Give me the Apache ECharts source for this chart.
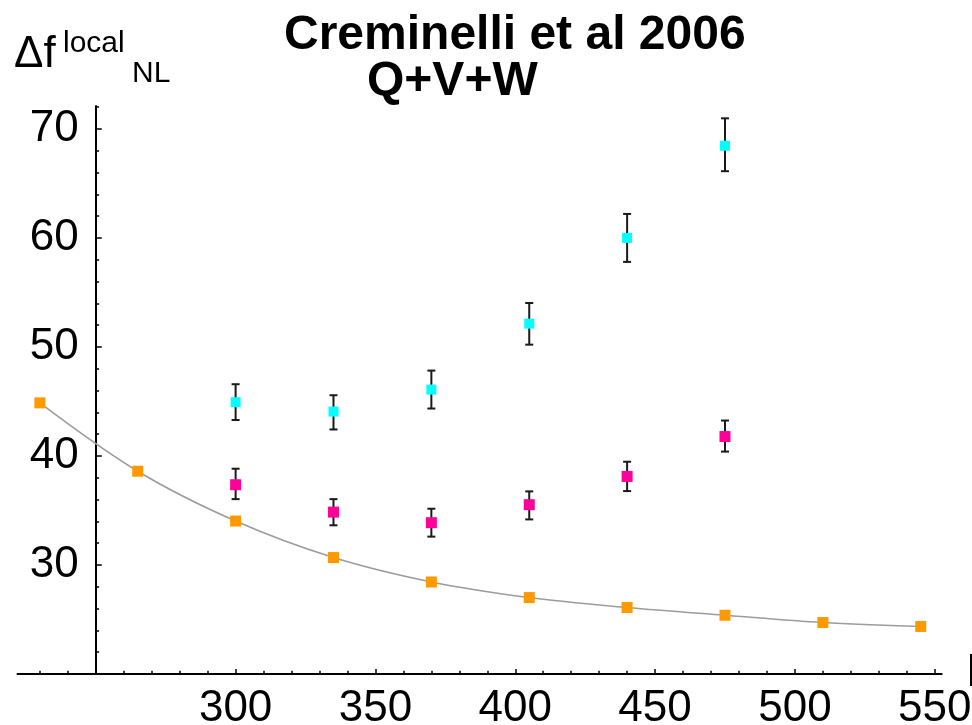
<!DOCTYPE html>
<html>
<head>
<meta charset="utf-8">
<script src="https://cdn.jsdelivr.net/npm/echarts@6/dist/echarts.min.js"></script>
<style>
html,body{margin:0;padding:0;background:#fff;overflow:hidden;}
#chart{width:972px;height:725px;}
</style>
</head>
<body>
<div id="chart"></div>
<script>
// ---- data ----
const lOrange = [230, 265, 300, 335, 370, 405, 440, 475, 510, 545];
const orangeVals = [44.87, 38.6, 34.03, 30.68, 28.44, 27.01, 26.1, 25.39, 24.72, 24.36];

const lErr = [300, 335, 370, 405, 440, 475];
const cyanVals = [44.93, 44.07, 46.09, 52.14, 60.0, 68.46];
const cyanLow  = [43.3, 42.43, 44.35, 50.21, 57.8, 66.12];
const cyanHigh = [46.58, 45.57, 47.83, 54.03, 62.2, 70.97];

const magVals = [37.36, 34.85, 33.88, 35.53, 38.12, 41.78];
const magLow  = [36.04, 33.64, 32.6, 34.18, 36.78, 40.4];
const magHigh = [38.83, 36.04, 35.16, 36.75, 39.47, 43.25];

const xMajorTicks = [300, 350, 400, 450, 500, 550];
const xMinorTicks = [230, 240, 260, 270, 280, 290, 310, 320, 330, 340, 360, 370, 380, 390, 410, 420, 430, 440, 460, 470, 480, 490, 510, 520, 530, 540];
const yMajorTicks = [30, 40, 50, 60, 70];
const yMinorTicks = [22, 24, 26, 28, 32, 34, 36, 38, 42, 44, 46, 48, 52, 54, 56, 58, 62, 64, 66, 68, 72];

const titleLine1 = 'Creminelli et al 2006';
const titleLine2 = 'Q+V+W';

// ---- chart ----
const FONT = '"Liberation Sans", Arial, Helvetica, sans-serif';
const X_MIN = 222, X_MAX = 552.5, Y_MIN = 20, Y_MAX = 72.1;
const chart = echarts.init(document.getElementById('chart'), null, {renderer: 'canvas'});

function errData(low, high) {
  return lErr.map((l, i) => [l, low[i], high[i]]);
}
function errRender(params, api) {
  const x = api.value(0);
  const p1 = api.coord([x, api.value(1)]);
  const p2 = api.coord([x, api.value(2)]);
  const w = 4;
  const st = {stroke: '#1a1a1a', lineWidth: 2};
  return {
    type: 'group',
    children: [
      {type: 'line', shape: {x1: p1[0], y1: p1[1], x2: p2[0], y2: p2[1]}, style: st},
      {type: 'line', shape: {x1: p1[0] - w, y1: p1[1], x2: p1[0] + w, y2: p1[1]}, style: st},
      {type: 'line', shape: {x1: p2[0] - w, y1: p2[1], x2: p2[0] + w, y2: p2[1]}, style: st}
    ]
  };
}

const gridTop = 106, gridBottom = 51, gridRight = 30.3;

const option = {
  animation: false,
  backgroundColor: '#fff',
  title: [
    {text: titleLine1, left: 284, top: 12, padding: 0,
     textStyle: {fontFamily: FONT, fontSize: 48, fontWeight: 'bold', color: '#000'}},
    {text: titleLine2, left: 367, top: 58, padding: 0,
     textStyle: {fontFamily: FONT, fontSize: 48, fontWeight: 'bold', color: '#000'}}
  ],
  graphic: [
    {type: 'text', left: 14, top: 33, style: {text: 'Δf', font: '44px ' + FONT, fill: '#000'}},
    {type: 'text', left: 63, top: 29, style: {text: 'local', font: '30px ' + FONT, fill: '#000'}},
    {type: 'text', left: 132, top: 59, style: {text: 'NL', font: '30px ' + FONT, fill: '#000'}},
    {type: 'text', left: 967, top: 652, style: {text: 'l', font: '44px ' + FONT, fill: '#000'}}
  ],
  grid: [
    {left: 17.5, right: gridRight, top: gridTop, bottom: gridBottom, containLabel: false, outerBoundsMode: 'none'},
    {left: 95.8, right: gridRight, top: gridTop, bottom: gridBottom, containLabel: false, outerBoundsMode: 'none'}
  ],
  xAxis: [
    {gridIndex: 0, type: 'value', min: X_MIN, max: X_MAX, position: 'bottom',
     axisLine: {show: true, lineStyle: {color: '#000', width: 2}},
     axisTick: {show: true, inside: true, length: 5, customValues: xMajorTicks, lineStyle: {color: '#000', width: 1.5}},
     axisLabel: {show: true, customValues: xMajorTicks, margin: 13, fontSize: 44, fontFamily: FONT, color: '#000', hideOverlap: false},
     splitLine: {show: false}},
    {gridIndex: 0, type: 'value', min: X_MIN, max: X_MAX, position: 'bottom',
     axisLine: {show: false},
     axisTick: {show: true, inside: true, length: 3.3, customValues: xMinorTicks, lineStyle: {color: '#000', width: 1.5}},
     axisLabel: {show: false}, splitLine: {show: false}},
    {gridIndex: 1, type: 'value', min: X_MIN, max: X_MAX, show: false}
  ],
  yAxis: [
    {gridIndex: 0, type: 'value', min: Y_MIN, max: Y_MAX, show: false},
    {gridIndex: 1, type: 'value', min: Y_MIN, max: Y_MAX, position: 'left',
     axisLine: {show: true, lineStyle: {color: '#000', width: 2}},
     axisTick: {show: true, inside: true, length: 6, customValues: yMajorTicks, lineStyle: {color: '#000', width: 1.5}},
     axisLabel: {show: true, customValues: yMajorTicks, margin: 17, fontSize: 44, fontFamily: FONT, color: '#000'},
     splitLine: {show: false}},
    {gridIndex: 1, type: 'value', min: Y_MIN, max: Y_MAX, position: 'left', offset: 0,
     axisLine: {show: false},
     axisTick: {show: true, inside: true, length: 3.3, customValues: yMinorTicks, lineStyle: {color: '#000', width: 1.5}},
     axisLabel: {show: false}, splitLine: {show: false}}
  ],
  series: [
    {type: 'line', xAxisIndex: 0, yAxisIndex: 0, smooth: 0.35, symbol: 'none',
     data: lOrange.map((l, i) => [l, orangeVals[i]]),
     lineStyle: {color: '#9c9c9c', width: 1.6}, z: 2},
    {type: 'custom', xAxisIndex: 0, yAxisIndex: 0, renderItem: errRender, data: errData(cyanLow, cyanHigh), z: 3},
    {type: 'custom', xAxisIndex: 0, yAxisIndex: 0, renderItem: errRender, data: errData(magLow, magHigh), z: 3},
    {type: 'scatter', xAxisIndex: 0, yAxisIndex: 0, symbol: 'rect', symbolSize: 11,
     data: lOrange.map((l, i) => [l, orangeVals[i]]), itemStyle: {color: '#FF9900', opacity: 1}, z: 5},
    {type: 'scatter', xAxisIndex: 0, yAxisIndex: 0, symbol: 'rect', symbolSize: 10,
     data: lErr.map((l, i) => [l, cyanVals[i]]), itemStyle: {color: '#00FFFF', opacity: 1}, z: 5},
    {type: 'scatter', xAxisIndex: 0, yAxisIndex: 0, symbol: 'rect', symbolSize: 11,
     data: lErr.map((l, i) => [l, magVals[i]]), itemStyle: {color: '#FF0099', opacity: 1}, z: 5}
  ]
};
chart.setOption(option);
</script>
</body>
</html>
